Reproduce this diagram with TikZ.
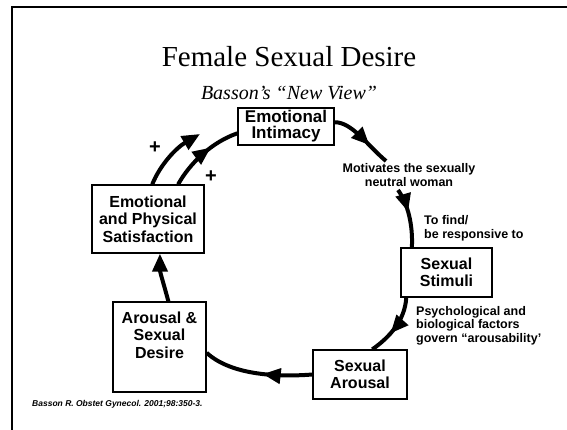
\documentclass[tikz,border=0pt]{standalone}
\usepackage{fontspec}
\setmainfont{Liberation Serif}
\setsansfont{Liberation Sans}
\usetikzlibrary{arrows.meta,decorations.markings}

\begin{document}
\begin{tikzpicture}[x=1pt,y=-1pt,
    box/.style={draw,line width=1.3pt,inner sep=0pt,align=center,font=\sffamily\bfseries\fontsize{16}{17.5}\selectfont},
    note/.style={inner sep=0pt,font=\sffamily\bfseries\fontsize{12.5}{13.5}\selectfont},
    plus/.style={font=\sffamily\bfseries\fontsize{20}{20}\selectfont},
    flow/.style={line width=4pt},
    midhead/.style={postaction={decorate,decoration={markings,mark=at position #1 with {\arrow{Triangle[length=18pt,width=15pt]}}}}},
    >={Triangle[length=18pt,width=15pt]}]
    \useasboundingbox (0,0) rectangle (567,430);
    \draw[line width=1.5pt] (12,430) -- (12,7) -- (567,7);
    \node[anchor=base,font=\fontsize{29}{34}\selectfont] (title) at (289,67) {Female Sexual Desire};
    \node[anchor=base,font=\itshape\fontsize{20}{24}\selectfont] (subtitle) at (289,100) {Basson's ``New View''};

    \node[box,minimum width=96pt,minimum height=37pt,font=\sffamily\bfseries\fontsize{17}{16}\selectfont] (intimacy) at (286,126.5) {Emotional\\Intimacy};
    \node[box,minimum width=112pt,minimum height=68pt] (satisfaction) at (148,219) {Emotional\\and Physical\\Satisfaction};
    \node[box,minimum width=91pt,minimum height=49pt] (stimuli) at (446.5,272.5) {Sexual\\Stimuli};
    \node[box,minimum width=94pt,minimum height=49pt] (arousal) at (360,374.5) {Sexual\\Arousal};
    \node[box,minimum width=93pt,minimum height=90pt] (desire) at (159.5,347) {};
    \node[box,draw=none] (desiretext) at (159.5,335) {Arousal \&\\Sexual\\Desire};

    \node[note,align=center] (motiv) at (409,175) {Motivates the sexually\\neutral woman};
    \node[note,align=left,anchor=west] (find) at (424,228.5) {To find/\\be responsive to};
    \node[note,align=left,anchor=west] (psych) at (416,325.5) {Psychological and\\biological factors\\govern ``arousability'};
    \node[plus] (plusa) at (155,148) {+};
    \node[plus] (plusb) at (211,177) {+};
    \node[anchor=west,inner sep=0pt,font=\sffamily\bfseries\itshape\fontsize{8.5}{10}\selectfont] (cite) at (32,404) {Basson R. Obstet Gynecol. 2001;98:350-3.};

    \coordinate (motivend) at (386,161);
    \coordinate (findstart) at (398,190);
    \coordinate (plusend) at (200,134);

    \draw[flow,midhead=0.65] (intimacy.5) .. controls (352,122) and (368,146) .. (motivend);
    \draw[flow,midhead=0.4] (findstart) .. controls (408,204) and (413,225) .. (stimuli.144);
    \draw[flow,midhead=0.62] (stimuli.212) .. controls (405,320) and (390,337) .. (arousal.64);
    \draw[flow,midhead=0.45] (arousal.west) .. controls (280,377) and (232,376) .. (desire.-7);
    \draw[flow,->] (desire.79) .. controls (164,285) and (160,272) .. (satisfaction.-71);
    \draw[flow,->] (satisfaction.83) .. controls (160,165) and (176,148) .. (plusend);
    \draw[flow,midhead=0.62] (satisfaction.49) .. controls (190,163) and (212,142) .. (intimacy.188);
\end{tikzpicture}
\end{document}
